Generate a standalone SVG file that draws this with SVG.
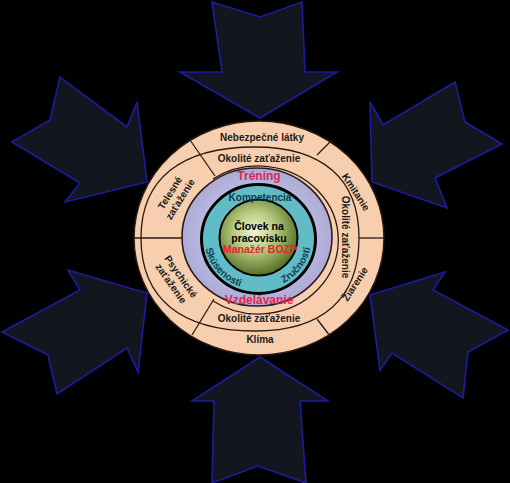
<svg xmlns="http://www.w3.org/2000/svg" width="510" height="483" viewBox="0 0 510 483">
<defs>
<radialGradient id="sphere" cx="45%" cy="42%" r="60%">
<stop offset="0" stop-color="#f4f5d6"/>
<stop offset="0.45" stop-color="#b6c97e"/>
<stop offset="1" stop-color="#4c6b1f"/>
</radialGradient>
<radialGradient id="lav" cx="50%" cy="50%" r="55%">
<stop offset="0.6" stop-color="#bdbbe0"/>
<stop offset="1" stop-color="#a9a7d3"/>
</radialGradient>
<path id="pSk" d="M204.5,238.9 A53.5,51.5 0 0,0 249.6,288.9"/>
<path id="pZr" d="M263.6,289.2 A53.5,51.5 0 0,0 310.3,227.3"/>
</defs>
<style>
.arrow{fill:#13161e;stroke:#1c1c9e;stroke-width:1.6;stroke-linejoin:miter}
.ln{fill:none;stroke:#2a1a10;stroke-width:1.3}
.t{font-family:"Liberation Sans",Arial,sans-serif;font-weight:bold;font-size:10px;fill:#1a1a1a;text-anchor:middle}
.red{fill:#e3264f;font-size:12px}
.teal{fill:#0e3d4d}
</style>
<rect width="510" height="483" fill="#000"/>
<g id="arrows">
<polygon id="arrow-top" class="arrow" points="212,2 260,17 302,2 305,72 337,72 260,118 180,72 222,72"/>
<polygon id="arrow-upper-left" class="arrow" points="60,77 50,120 12,142 80,183 65,202 147,182 137,102 127,127"/>
<polygon id="arrow-upper-right" class="arrow" points="455,82 465,122 502,144 435,178 447,208 372,182 370,102 383,125"/>
<polygon id="arrow-lower-left" class="arrow" points="57,394 48,355 2,332 80,290 68,270 147,293 138,372 127,348"/>
<polygon id="arrow-lower-right" class="arrow" points="463,398 468,352 508,330 433,290 445,272 370,295 380,370 392,353"/>
<polygon id="arrow-bottom" class="arrow" points="260,357 328,401 300,401 306,483 258,466 212,483 214,401 192,401"/>
</g>
<g id="outer-ring">
<ellipse cx="259" cy="238" rx="125" ry="117" fill="#f8cfae" stroke="#2a1a10" stroke-width="1.5"/>
<path class="ln" d="M141,238 C141,178.9 180.9,147 255,147 C322.6,147 359,178.9 359,238 C359,298.5 322.6,331 255,331 C180.9,331 141,298.5 141,238 Z"/>
<path class="ln" d="M213,179 A80,74 0 1,1 213,301"/>
<line class="ln" x1="190" y1="140" x2="215" y2="176"/>
<line class="ln" x1="331" y1="141" x2="317" y2="155"/>
<line class="ln" x1="317" y1="319" x2="330" y2="336"/>
<line class="ln" x1="192" y1="335" x2="214" y2="299"/>
<line class="ln" x1="134" y1="238" x2="183" y2="238"/>
<line class="ln" x1="359" y1="238" x2="384" y2="238"/>
</g>
<g id="purple-ring">
<ellipse cx="257" cy="237" rx="75" ry="69" fill="url(#lav)" stroke="#2a1a20" stroke-width="1.6"/>
</g>
<g id="teal-ring">
<ellipse cx="258.5" cy="239" rx="57" ry="54.5" fill="#62bcc6" stroke="#000" stroke-width="3"/>
</g>
<g id="center">
<ellipse cx="258.5" cy="237.5" rx="39" ry="38" fill="url(#sphere)" stroke="#000" stroke-width="2"/>
</g>
<g id="labels">
<text class="t" x="262" y="141">Nebezpečné látky</text>
<text class="t" x="259" y="161.5">Okolité zaťaženie</text>
<text class="t red" x="259" y="179.5">Tréning</text>
<text class="t teal" x="260" y="200.5">Kompetencia</text>
<text class="t" x="259" y="230" style="font-size:10.5px;fill:#000">Človek na</text>
<text class="t" x="259" y="241.5" style="font-size:10.5px;fill:#000">pracovisku</text>
<text class="t" x="260" y="253" style="font-size:10.5px;fill:#e8242a">Manažér BOZP</text>
<text class="t teal"><textPath href="#pSk" startOffset="50%">Skúsenosti</textPath></text>
<text class="t teal"><textPath href="#pZr" startOffset="50%">Zručnosti</textPath></text>
<text class="t red" x="259" y="304">Vzdelávanie</text>
<text class="t" x="259" y="322">Okolité zaťaženie</text>
<text class="t" x="260" y="343">Klíma</text>
<text class="t" transform="translate(356,192) rotate(57)" x="0" y="3.5">Kmitanie</text>
<text class="t" transform="translate(345,237) rotate(90)" x="0" y="3.5">Okolité zaťaženie</text>
<text class="t" transform="translate(355,284) rotate(-57)" x="0" y="3.5">Žiarenie</text>
<text class="t" transform="translate(175,196) rotate(-58)"><tspan x="0" y="-2.5">Telesné</tspan><tspan x="0" y="9.5">zaťaženie</tspan></text>
<text class="t" transform="translate(176,280) rotate(55)"><tspan x="0" y="-2.5">Psychické</tspan><tspan x="0" y="9.5">zaťaženie</tspan></text>
</g>
</svg>
